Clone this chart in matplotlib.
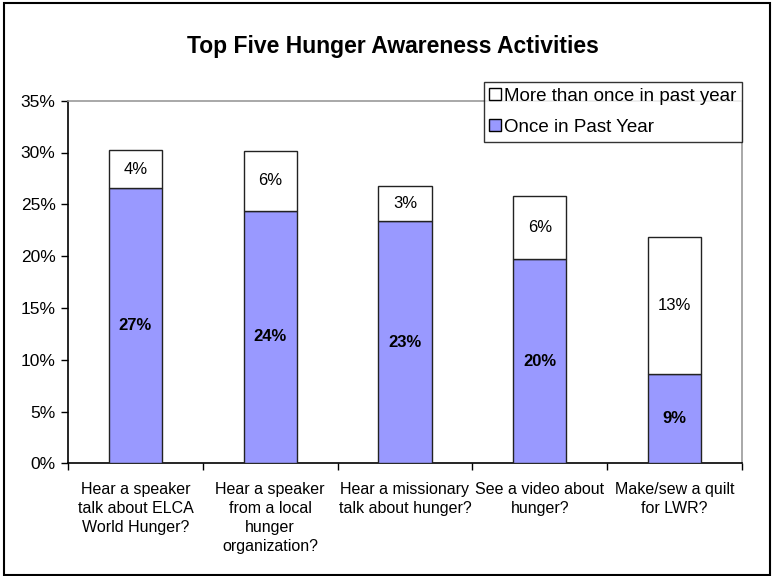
import matplotlib
matplotlib.use("Agg")
import matplotlib.pyplot as plt
from matplotlib.patches import Rectangle
from matplotlib.lines import Line2D

plt.rcParams['font.family'] = ['Liberation Sans', 'DejaVu Sans']

categories = ["Hear a speaker\ntalk about ELCA\nWorld Hunger?",
              "Hear a speaker\nfrom a local\nhunger\norganization?",
              "Hear a missionary\ntalk about hunger?",
              "See a video about\nhunger?",
              "Make/sew a quilt\nfor LWR?"]
once = [26.6, 24.4, 23.4, 19.7, 8.6]
more = [3.6, 5.7, 3.4, 6.1, 13.2]
once_labels = ["27%", "24%", "23%", "20%", "9%"]
more_labels = ["4%", "6%", "3%", "6%", "13%"]
yticks = [0, 5, 10, 15, 20, 25, 30, 35]

fig = plt.figure(figsize=(7.73, 5.76), dpi=100)
ax = fig.add_axes([68/773, 1-463.3/576, (742-68)/773, (463.3-100.7)/576])

x = list(range(len(categories)))
w = 0.395
ax.bar(x, once, width=w, color='#9999FF', edgecolor='#222222', linewidth=1.0, zorder=3)
ax.bar(x, more, width=w, bottom=once, color='white', edgecolor='#222222', linewidth=1.0, zorder=3)

for i in x:
    ax.text(i, once[i]/2, once_labels[i], ha='center', va='center', fontsize=12, fontweight='bold', zorder=4)
    ax.text(i, once[i] + more[i]/2, more_labels[i], ha='center', va='center', fontsize=12, zorder=4)

ax.set_xlim(-0.5, len(categories)-0.5)
ax.set_ylim(0, 35)
ax.set_yticks(yticks)
ax.set_yticklabels([f"{v}%" for v in yticks], fontsize=12.5)
ax.set_xticks([i + 0.5 for i in range(-1, len(categories))])
ax.set_xticklabels([])
ax.tick_params(axis='x', direction='out', length=5, width=1)
ax.tick_params(axis='y', direction='out', length=5, width=1, pad=4)
for i, c in enumerate(categories):
    ax.text(i, -1.8, c, ha='center', va='top', fontsize=11.5, linespacing=1.33)

for s in ['left', 'bottom']:
    ax.spines[s].set_color('black')
    ax.spines[s].set_linewidth(1.2)
for s in ['top', 'right']:
    ax.spines[s].set_color('#999999')
    ax.spines[s].set_linewidth(1.2)

fig.text(393/773, 1-47/576, "Top Five Hunger Awareness Activities", ha='center', va='center',
         fontsize=16.5, fontweight='bold')

handles = [Line2D([], [], marker='s', linestyle='none', markerfacecolor='white', markeredgecolor='black', markersize=8),
           Line2D([], [], marker='s', linestyle='none', markerfacecolor='#9999FF', markeredgecolor='black', markersize=8)]
leg = fig.legend(handles, ["More than once in past year", "Once in Past Year"],
                 loc='upper left', bbox_to_anchor=(484/773, 1-82/576), fontsize=13.5,
                 frameon=True, fancybox=False, edgecolor='black', handlelength=0.6,
                 handletextpad=0.15, borderpad=0.3, labelspacing=0.75, borderaxespad=0)
leg.get_frame().set_linewidth(1.0)

fig.patches.append(Rectangle((4/773, 1/576), 766/773, 572/576, transform=fig.transFigure,
                             fill=False, edgecolor='black', linewidth=1.5))

fig.savefig("out.png", dpi=100)
